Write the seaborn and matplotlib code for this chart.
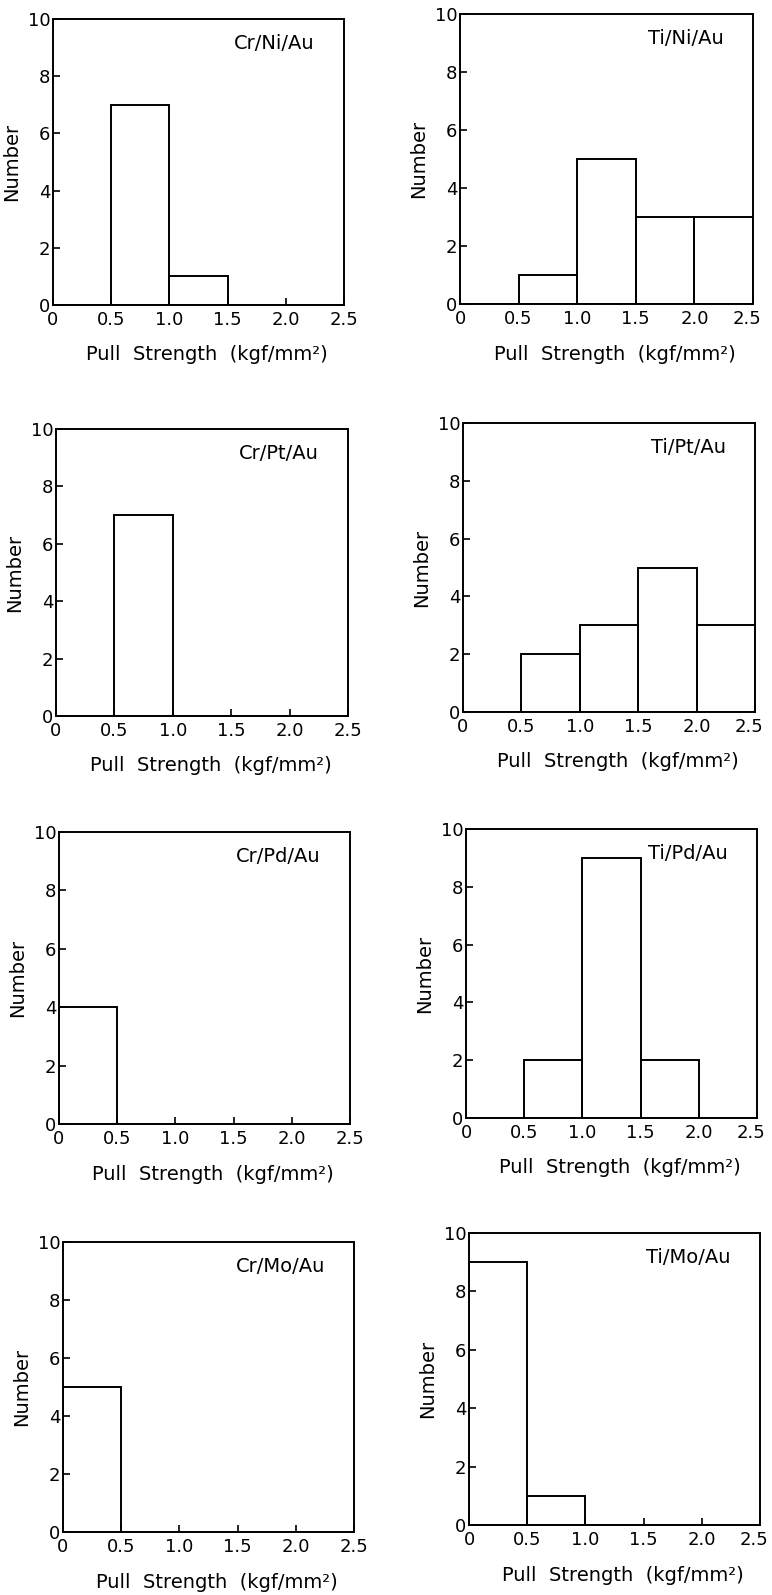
import numpy as np
import pandas as pd
import matplotlib
matplotlib.use('Agg')
import matplotlib.pyplot as plt
import matplotlib.transforms as mtransforms
import seaborn as sns

# ===== du lieu doc tu hinh =====
bin_edges = [0.0, 0.5, 1.0, 1.5, 2.0, 2.5]
bin_centers = [0.25, 0.75, 1.25, 1.75, 2.25]
x_tick_labels = ['0', '0.5', '1.0', '1.5', '2.0', '2.5']
y_ticks = [0, 2, 4, 6, 8, 10]

samples = ['Cr/Ni/Au', 'Ti/Ni/Au', 'Cr/Pt/Au', 'Ti/Pt/Au',
           'Cr/Pd/Au', 'Ti/Pd/Au', 'Cr/Mo/Au', 'Ti/Mo/Au']
cr_ni_au = [0, 7, 1, 0, 0]
ti_ni_au = [0, 1, 5, 3, 3]
cr_pt_au = [0, 7, 0, 0, 0]
ti_pt_au = [0, 2, 3, 5, 3]
cr_pd_au = [4, 0, 0, 0, 0]
ti_pd_au = [0, 2, 9, 2, 0]
cr_mo_au = [5, 0, 0, 0, 0]
ti_mo_au = [9, 1, 0, 0, 0]
counts = [cr_ni_au, ti_ni_au, cr_pt_au, ti_pt_au,
          cr_pd_au, ti_pd_au, cr_mo_au, ti_mo_au]

rows = []
for name, c in zip(samples, counts):
    for xc, n in zip(bin_centers, c):
        rows.append({'sample': name, 'strength': xc, 'number': n})
df = pd.DataFrame(rows)

# vi tri cac o (pixel: trai, tren, phai, duoi)
W, H = 772, 1595
boxes = [(53, 19, 344, 305), (460, 14, 753, 304),
         (56, 429, 348, 716), (463, 423, 755, 712),
         (59, 832, 350, 1124), (466, 829, 757, 1118),
         (63, 1242, 354, 1532), (469, 1233, 760, 1525)]

sns.set_style('ticks')
plt.rcParams['font.family'] = ['DejaVu Sans']
plt.rcParams['text.color'] = 'black'
plt.rcParams['axes.labelcolor'] = 'black'
plt.rcParams['xtick.color'] = 'black'
plt.rcParams['ytick.color'] = 'black'

fig = plt.figure(figsize=(W / 100, H / 100), dpi=100)

for i, (name, (l, t, r, b)) in enumerate(zip(samples, boxes)):
    ax = fig.add_axes([l / W, 1 - b / H, (r - l) / W, (b - t) / H])
    sub = df[df['sample'] == name]
    sns.histplot(data=sub, x='strength', weights='number', bins=bin_edges,
                 fill=False, color='black', linewidth=1.4, ax=ax)
    ax.set_xlim(0, 2.5)
    ax.set_ylim(0, 10)
    ax.set_xticks(bin_edges)
    ax.set_xticklabels(x_tick_labels, fontsize=13)
    ax.set_yticks(y_ticks)
    ax.set_yticklabels([str(v) for v in y_ticks], fontsize=13)
    ax.tick_params(direction='in', length=5, width=1.2,
                   top=False, right=False)
    ax.tick_params(axis='x', pad=4)
    ax.tick_params(axis='y', pad=2)
    # cot phai: day nhan "2.5" vao trong de khong bi cat
    if i % 2 == 1:
        last = ax.get_xticklabels()[-1]
        last.set_transform(last.get_transform() +
                           mtransforms.ScaledTranslation(-0.06, 0, fig.dpi_scale_trans))
    for sp in ax.spines.values():
        sp.set_visible(True)
        sp.set_linewidth(1.4)
        sp.set_color('black')
    ax.set_ylabel('Number', fontsize=14)
    ax.yaxis.set_label_coords(-0.11, 0.5)
    ax.set_xlabel('Pull  Strength  (kgf/mm²)', fontsize=14)
    ax.xaxis.set_label_coords(0.53, -0.14)
    ax.text(0.90, 0.915, name, transform=ax.transAxes, ha='right',
            va='center', fontsize=14)

plt.savefig('out.png', dpi=100)
plt.close()
